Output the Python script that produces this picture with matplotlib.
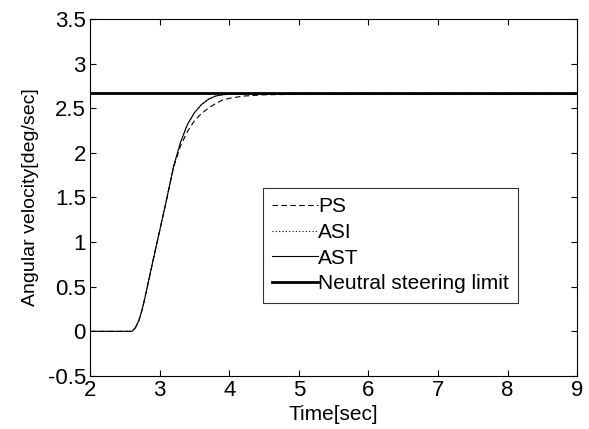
import matplotlib
matplotlib.use("Agg")
import matplotlib.pyplot as plt
import numpy as np

plt.rcParams['font.family'] = ['Liberation Sans', 'DejaVu Sans']

t = [2.0, 2.6, 2.65, 2.7, 2.75, 2.8, 2.9, 3.0, 3.1, 3.2, 3.3, 3.4, 3.5, 3.6, 3.7, 3.8, 3.9, 4.0, 4.2, 4.5, 5.0, 9.0]
ps  = [0, 0, 0.04, 0.12, 0.25, 0.42, 0.78, 1.13, 1.48, 1.84, 2.08, 2.24, 2.36, 2.44, 2.50, 2.55, 2.59, 2.61, 2.635, 2.65, 2.655, 2.655]
asi = [0, 0, 0.04, 0.12, 0.25, 0.42, 0.78, 1.13, 1.48, 1.85, 2.12, 2.32, 2.45, 2.54, 2.60, 2.635, 2.65, 2.657, 2.66, 2.66, 2.66, 2.66]
ast = [0, 0, 0.04, 0.12, 0.25, 0.42, 0.78, 1.13, 1.48, 1.85, 2.12, 2.32, 2.45, 2.54, 2.60, 2.635, 2.65, 2.657, 2.66, 2.66, 2.66, 2.66]
limit = 2.67
xlim = [2, 9]
ylim = [-0.5, 3.5]
xticks = [2, 3, 4, 5, 6, 7, 8, 9]
yticks = [-0.5, 0, 0.5, 1, 1.5, 2, 2.5, 3, 3.5]
yticklabels = ['-0.5', '0', '0.5', '1', '1.5', '2', '2.5', '3', '3.5']

fig = plt.figure(figsize=(5.89, 4.29), dpi=100)
ax = fig.add_axes([0.153, 0.1235, 0.827, 0.8325])

ax.plot(t, ps, color='black', linestyle=(0, (5, 3)), linewidth=0.8, label='PS')
ax.plot(t, asi, color='black', linestyle=(0, (1, 2)), linewidth=0.8, label='ASI')
ax.plot(t, ast, color='black', linestyle='-', linewidth=0.8, label='AST')
ax.plot(xlim, [limit, limit], color='black', linewidth=2.0, label='Neutral steering limit')

ax.set_xlim(xlim)
ax.set_ylim(ylim)
ax.set_xticks(xticks)
ax.set_yticks(yticks)
ax.set_yticklabels(yticklabels)
ax.tick_params(direction='in', top=True, right=True, labelsize=16, length=4, width=0.8, pad=3)
for s in ax.spines.values():
    s.set_linewidth(0.8)
ax.set_xlabel('Time[sec]', fontsize=15, labelpad=3)
ax.set_ylabel('Angular velocity[deg/sec]', fontsize=14, labelpad=6)

leg = ax.legend(loc='upper left', bbox_to_anchor=(0.355, 0.527), fontsize=15,
                frameon=True, fancybox=False, edgecolor='black', handlelength=2.2,
                handletextpad=0.0, borderpad=0.45, labelspacing=0.32, borderaxespad=0)
leg.get_frame().set_linewidth(0.8)

fig.savefig('out.png', dpi=100)
